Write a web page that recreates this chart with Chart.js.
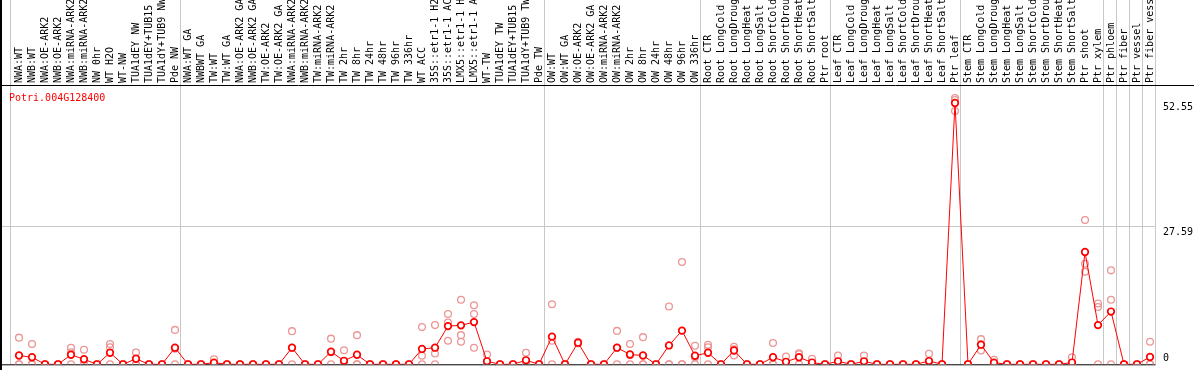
<!DOCTYPE html>
<html>
<head>
<meta charset="utf-8">
<script src="https://cdn.jsdelivr.net/npm/chart.js@4/dist/chart.umd.min.js"></script>
<style>
  html, body { margin: 0; padding: 0; background: #fff; }
  canvas { display: block; }
</style>
</head>
<body>
<canvas id="grafico" width="1194" height="370"></canvas>
<script>
const geneName = 'Potri.004G128400';

const samples = [
  'NWA:WT', 'NWB:WT', 'NWA:OE-ARK2', 'NWB:OE-ARK2', 'NWA:miRNA-ARK2', 'NWB:miRNA-ARK2',
  'NW 0hr', 'WT H2O', 'WT-NW', 'TUA1dEY NW', 'TUA1dEY+TUB15 NW', 'TUA1dY+TUB9 NW', 'Pde NW',
  'NWA:WT GA', 'NWBWT GA', 'TW:WT', 'TW:WT GA', 'NWA:OE-ARK2 GA', 'NWB:OE-ARK2 GA',
  'TW:OE-ARK2', 'TW:OE-ARK2 GA', 'NWA:miRNA-ARK2 GA', 'NWB:miRNA-ARK2 GA', 'TW:miRNA-ARK2',
  'TW:miRNA-ARK2 GA', 'TW 2hr', 'TW 8hr', 'TW 24hr', 'TW 48hr', 'TW 96hr', 'TW 336hr',
  'WT ACC', '35S::etr1-1 H2O', '35S::etr1-1 ACC', 'LMX5::etr1-1 H2O', 'LMX5::etr1-1 ACC',
  'WT-TW', 'TUA1dEY TW', 'TUA1dEY+TUB15 TW', 'TUA1dY+TUB9 TW', 'Pde TW',
  'OW:WT', 'OW:WT GA', 'OW:OE-ARK2', 'OW:OE-ARK2 GA', 'OW:miRNA-ARK2', 'OW:miRNA-ARK2 GA',
  'OW 2hr', 'OW 8hr', 'OW 24hr', 'OW 48hr', 'OW 96hr', 'OW 336hr',
  'Root CTR', 'Root LongCold', 'Root LongDrought', 'Root LongHeat', 'Root LongSalt',
  'Root ShortCold', 'Root ShortDrought', 'Root ShortHeat', 'Root ShortSalt', 'Ptr root',
  'Leaf CTR', 'Leaf LongCold', 'Leaf LongDrought', 'Leaf LongHeat', 'Leaf LongSalt',
  'Leaf ShortCold', 'Leaf ShortDrought', 'Leaf ShortHeat', 'Leaf ShortSalt', 'Ptr leaf',
  'Stem CTR', 'Stem LongCold', 'Stem LongDrought', 'Stem LongHeat', 'Stem LongSalt',
  'Stem ShortCold', 'Stem ShortDrought', 'Stem ShortHeat', 'Stem ShortSalt', 'Ptr shoot',
  'Ptr xylem', 'Ptr phloem', 'Ptr fiber', 'Ptr vessel', 'Ptr fiber vessel'
];

// media das replicas
const meanValues = [
  1.75, 1.4, 0, 0, 1.9, 1.0, 0, 2.3, 0, 1.1, 0, 0, 3.3,
  0, 0, 0.33, 0, 0, 0, 0, 0, 3.3, 0, 0, 2.5, 0.7, 1.9, 0, 0, 0, 0,
  3.05, 3.3, 7.6, 7.75, 8.4, 0.6, 0, 0, 0.8, 0,
  5.5, 0, 4.3, 0, 0, 3.3, 1.95, 1.75, 0, 3.75, 6.7, 1.7,
  2.3, 0, 2.75, 0, 0, 1.4, 0.5, 1.4, 0.35, 0,
  0.6, 0, 0.6, 0, 0, 0, 0, 0.65, 0, 52.0,
  0, 3.9, 0.33, 0, 0, 0, 0, 0, 0.35, 22.35,
  7.8, 10.5, 0, 0, 1.45
];

// replicas
const rep1 = [
  5.3, 4.05, 0, 0, 3.3, 2.9, 0, 4.05, 0, 2.35, 0, 0, 6.85,
  0, 0, 1.0, 0, 0, 0, 0, 0, 6.6, 0, 0, 5.1, 2.8, 5.8, 0, 0, 0, 0,
  7.4, 7.8, 10.0, 12.85, 11.75, 1.95, 0, 0, 2.3, 0,
  11.95, 0, 4.5, 0, 0, 6.65, 4.05, 5.4, 0, 11.5, 20.35, 3.7,
  3.9, 0, 3.5, 0, 0, 4.25, 1.55, 2.2, 1.1, 0,
  1.75, 0, 1.75, 0, 0, 0, 0, 2.1, 0, 53.0,
  0, 5.0, 0.9, 0, 0, 0, 0, 0, 1.4, 28.7,
  12.1, 18.7, 0, 0, 4.5
];
const rep2 = [
  0, 0, 0, 0, 2.4, 0.1, 0, 3.4, 0, 0, 0, 0, 3.1,
  0, 0, 0, 0, 0, 0, 0, 0, 3.3, 0, 0, 2.4, 0, 0, 0, 0, 0, 0,
  1.7, 2.15, 8.3, 5.8, 10.0, 0, 0, 0, 0.1, 0,
  4.7, 0, 4.2, 0, 0, 3.3, 1.8, 0, 0, 0, 0, 1.4,
  3.4, 0, 1.75, 0, 0, 0, 0, 2.0, 0, 0,
  0, 0, 0, 0, 0, 0, 0, 0, 0, 50.4,
  0, 2.75, 0.1, 0, 0, 0, 0, 0, 0, 20.0,
  11.4, 12.85, 0, 0, 0
];
const rep3 = [
  0, 0, 0, 0, 0, 0, 0, 0, 0, 0, 0, 0, 0,
  0, 0, 0, 0, 0, 0, 0, 0, 0, 0, 0, 0, 0, 0, 0, 0, 0, 0,
  0, 0, 4.7, 4.5, 3.3, 0, 0, 0, 0, 0,
  0, 0, 4.2, 0, 0, 0, 0, 0, 0, 0, 0, 0,
  0, 0, 3.0, 0, 0, 0, 0, 0, 0, 0,
  0, 0, 0, 0, 0, 0, 0, 0, 0, 52.6,
  0, 4.0, 0, 0, 0, 0, 0, 0, 0, 18.4,
  0, 0, 0, 0, 0
];

const yTicks = [0, 27.59, 52.55];
const yMax = 55.58;
// ultimo indice de cada grupo (linha cinza depois dele)
const groupEnds = [12, 40, 52, 62, 72, 83, 84, 85, 86, 87];

const FONT = '10px "DejaVu Sans Mono", monospace';
const GRID = '#c8c8c8';

const molduraPlugin = {
  id: 'moldura',
  beforeDatasetsDraw(chart) {
    const ctx = chart.ctx;
    const x = chart.scales.x;
    const y = chart.scales.y;
    const area = chart.chartArea;
    const right = x.getPixelForValue(87) + 5.5;
    ctx.save();
    ctx.lineWidth = 1;
    ctx.strokeStyle = GRID;
    ctx.beginPath();
    const y27 = Math.round(y.getPixelForValue(yTicks[1])) + 0.5;
    ctx.moveTo(0, y27); ctx.lineTo(right, y27);
    ctx.moveTo(10.5, 0); ctx.lineTo(10.5, area.bottom);
    groupEnds.forEach(i => {
      const px = Math.round(x.getPixelForValue(i) + 5.5) - 0.5;
      ctx.moveTo(px, 0); ctx.lineTo(px, area.bottom);
    });
    ctx.stroke();

    ctx.strokeStyle = '#000';
    ctx.lineWidth = 2;
    ctx.beginPath();
    ctx.moveTo(1, 0); ctx.lineTo(1, 370);
    ctx.stroke();
    ctx.lineWidth = 1;
    ctx.beginPath();
    ctx.moveTo(0, 85.5); ctx.lineTo(1194, 85.5);
    ctx.moveTo(0, area.bottom + 0.5); ctx.lineTo(right, area.bottom + 0.5);
    ctx.stroke();
    ctx.restore();
  },
  afterDraw(chart) {
    const ctx = chart.ctx;
    const x = chart.scales.x;
    const y = chart.scales.y;
    ctx.save();
    ctx.font = FONT;
    ctx.fillStyle = '#000';
    samples.forEach((s, i) => {
      ctx.save();
      ctx.translate(x.getPixelForValue(i) + 3, 83);
      ctx.rotate(-Math.PI / 2);
      ctx.textAlign = 'left';
      ctx.textBaseline = 'alphabetic';
      ctx.fillText(s, 0, 0);
      ctx.restore();
    });
    ctx.textAlign = 'left';
    ctx.textBaseline = 'alphabetic';
    ctx.fillText(yTicks[2].toFixed(2), 1163, y.getPixelForValue(yTicks[2]) + 10);
    ctx.fillText(yTicks[1].toFixed(2), 1163, y.getPixelForValue(yTicks[1]) + 9);
    ctx.fillText(String(yTicks[0]), 1163, y.getPixelForValue(yTicks[0]) - 3);
    ctx.fillStyle = '#ff0000';
    ctx.fillText(geneName, 9, 101);
    ctx.restore();
  }
};

function repDataset(valores) {
  return {
    data: valores,
    showLine: false,
    pointStyle: 'circle',
    pointRadius: 3.4,
    pointBorderWidth: 1.3,
    pointBorderColor: 'rgb(236,150,150)',
    pointBackgroundColor: 'rgba(0,0,0,0)',
    order: 2
  };
}

new Chart(document.getElementById('grafico'), {
  type: 'line',
  data: {
    labels: samples,
    datasets: [
      {
        data: meanValues,
        borderColor: '#ff0000',
        borderWidth: 1,
        pointStyle: 'circle',
        pointRadius: 3.3,
        pointBorderWidth: 1.7,
        pointBorderColor: '#ff0000',
        pointBackgroundColor: '#ffffff',
        tension: 0,
        fill: false,
        order: 0
      },
      repDataset(rep1),
      repDataset(rep2),
      repDataset(rep3)
    ]
  },
  options: {
    responsive: false,
    animation: false,
    layout: { padding: { left: 12.5, right: 37.5, top: 85, bottom: 1 } },
    plugins: { legend: { display: false }, tooltip: { enabled: false } },
    scales: {
      x: { display: false, offset: true },
      y: { display: false, min: 0, max: yMax }
    }
  },
  plugins: [molduraPlugin]
});
</script>
</body>
</html>
